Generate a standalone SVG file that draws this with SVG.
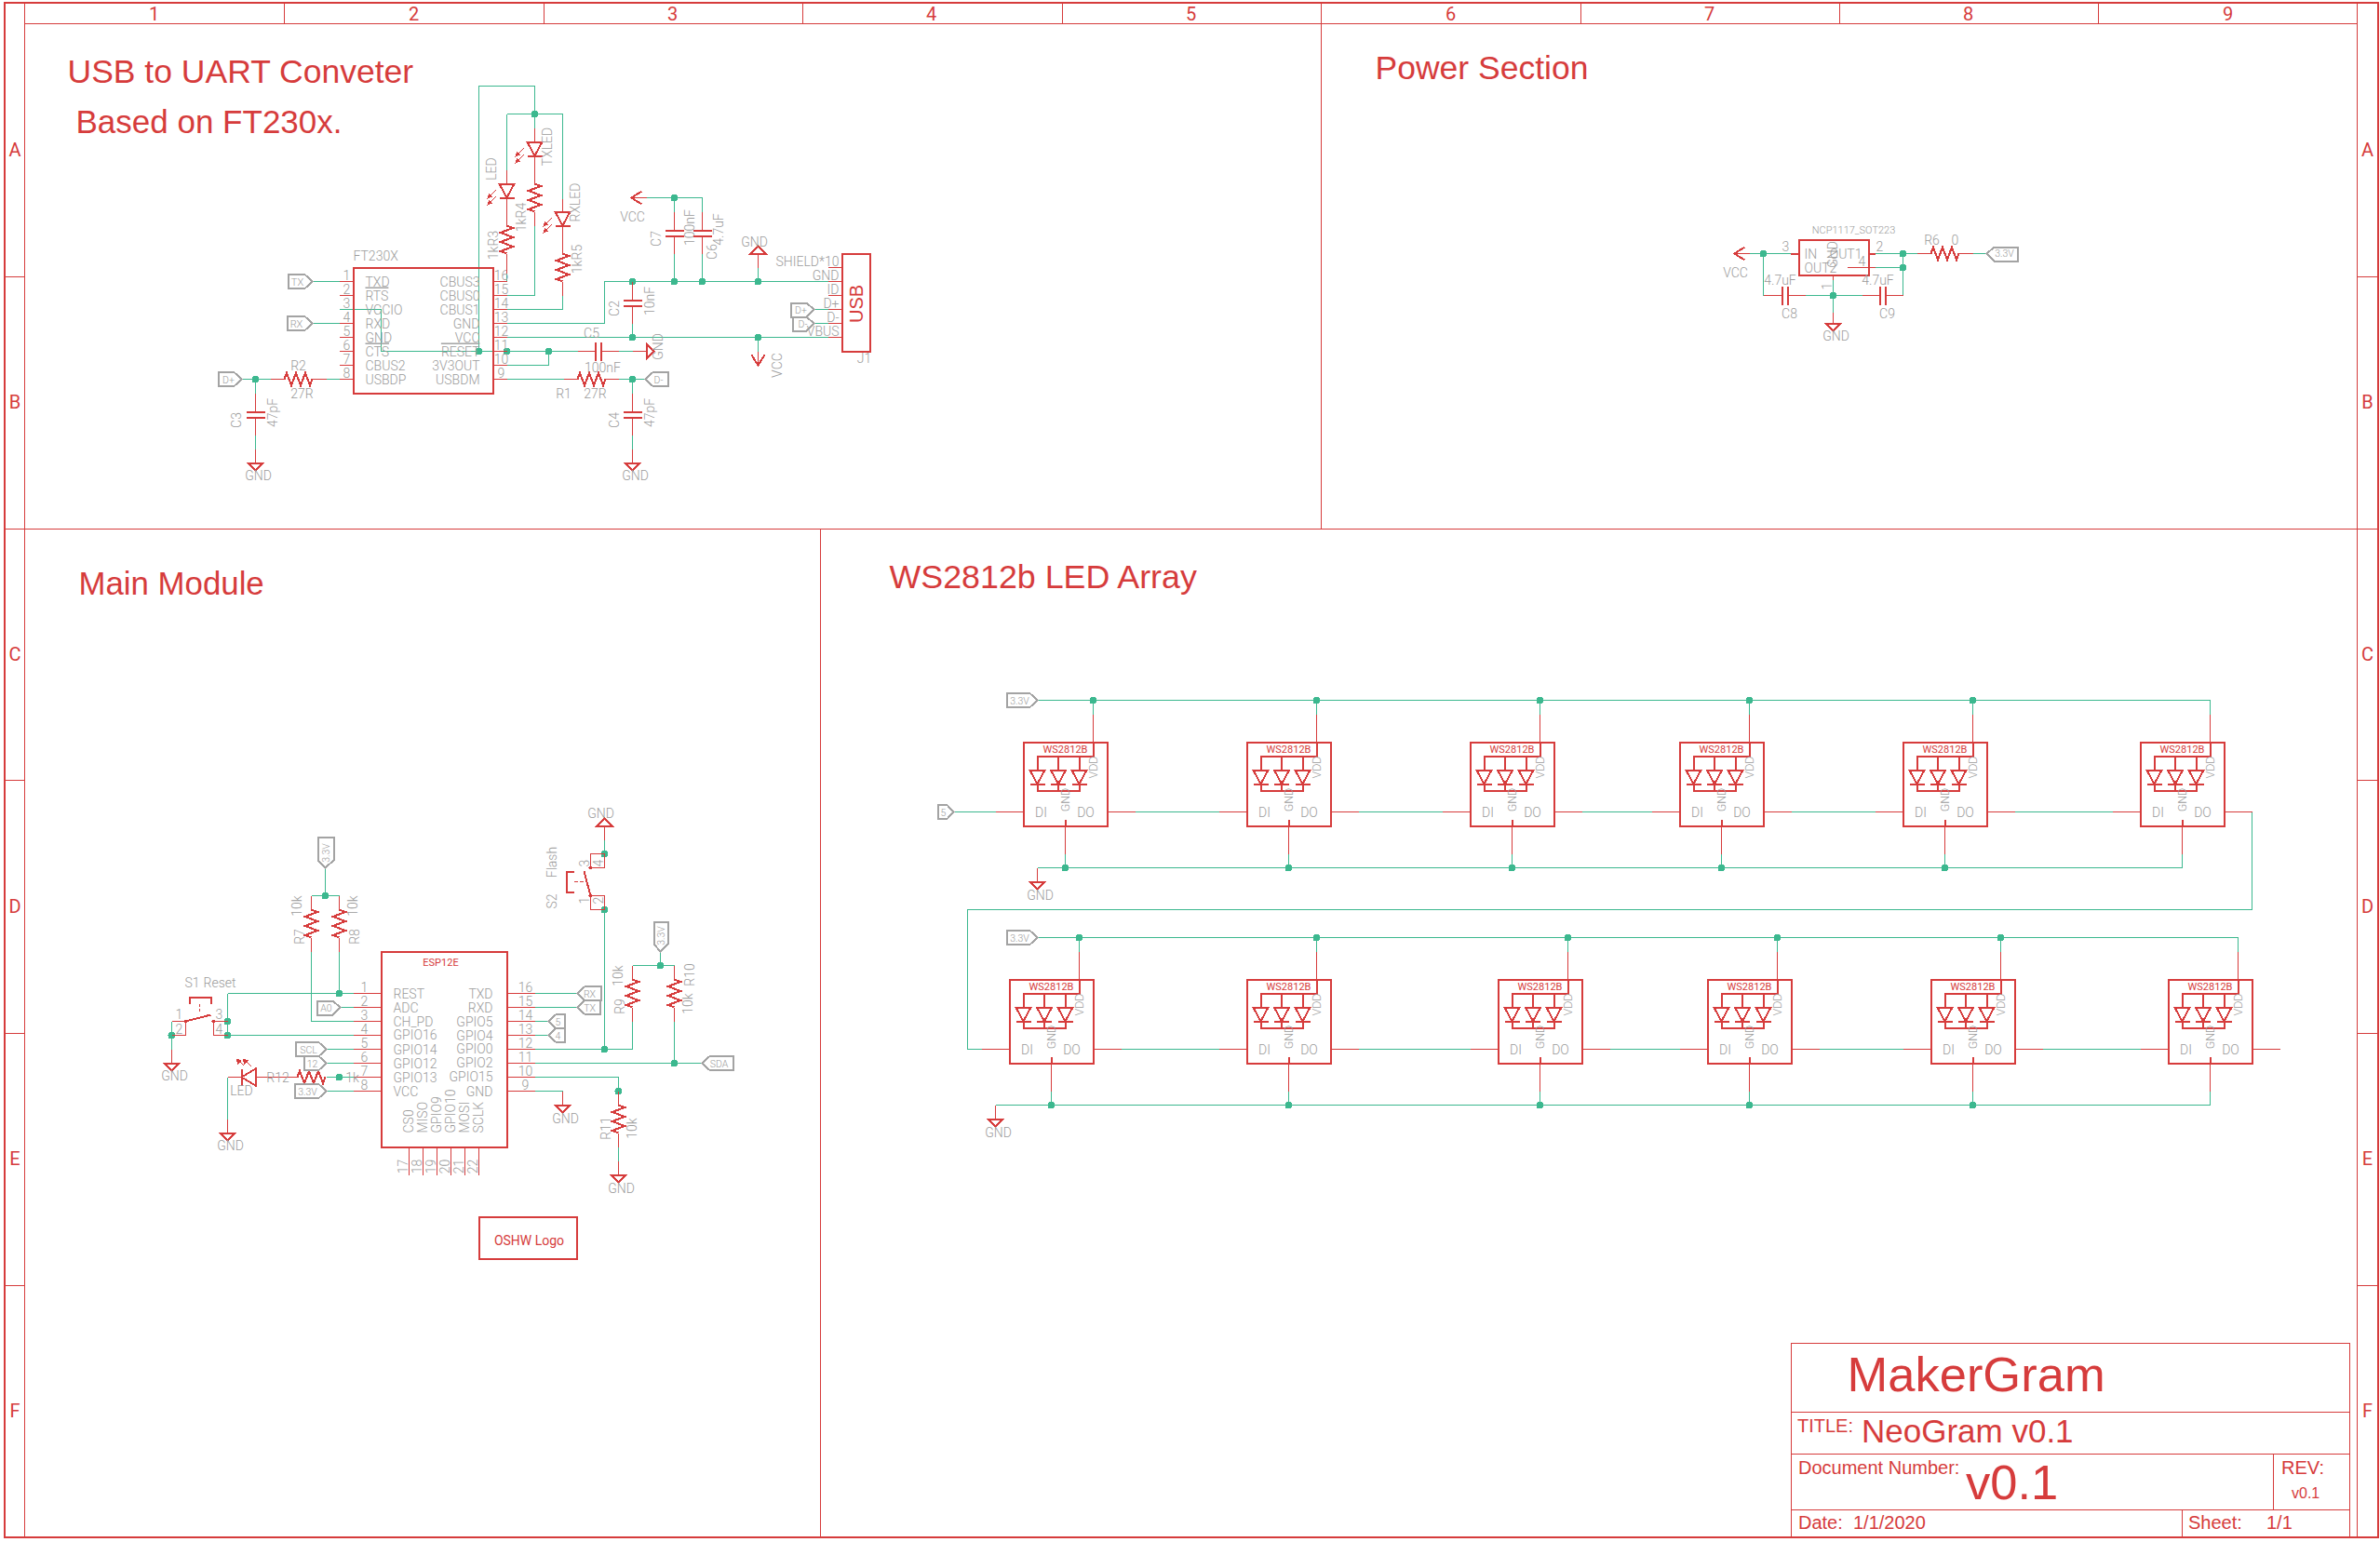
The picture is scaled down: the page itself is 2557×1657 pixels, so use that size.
<svg xmlns="http://www.w3.org/2000/svg" width="2557" height="1657" viewBox="0 0 2557 1657" shape-rendering="crispEdges">
<style>
text{font-family:Roboto,"Liberation Sans",sans-serif;fill:#9c9c9c;font-size:14px;font-weight:300;text-anchor:middle}
.e{text-anchor:end}.l{text-anchor:start}
.n{font-size:12.5px}.s{font-size:10.5px}.f10{font-size:11px}
.r{fill:#d63c3c;font-weight:400}.rs{fill:#d63c3c;font-size:11px;font-weight:400}
.a{font-family:"Liberation Sans",Arial,sans-serif;fill:#d63c3c;text-anchor:start;font-weight:400}
.w{fill:none;stroke:#3cb88f;stroke-width:1}
.p{fill:none;stroke:#d63c3c;stroke-width:1}
.t{fill:none;stroke:#d63c3c;stroke-width:2}
.fr{fill:none;stroke:#d63c3c;stroke-width:1}
.fo{fill:none;stroke:#d63c3c;stroke-width:2}
.fl{fill:none;stroke:#a3a3a3;stroke-width:2}
.d{fill:#3cb88f;stroke:none}
.rr{fill:#d63c3c;stroke:none}
</style>
<defs>
<path id="sR" class="t" d="M0 0L2.5-7L7.5 7L12.5-7L17.5 7L22.5-7L27.5 7L30 0"/>
<path id="sG" class="t" d="M-8 0H8L0 8Z"/>
<path id="sV" class="t" d="M-7-11L0 0L7-11"/>
<g id="sC"><path class="t" d="M-10 0H10M-10 6H10"/></g>
<g id="sD"><path class="t" d="M-8 0H8L0 15ZM-8 15H8"/></g>
<g id="sLA"><path class="p" d="M-12 7L-19 14M-12 14L-19 21"/><path class="rr" d="M-21 16L-19 10L-16 14ZM-21 23L-19 17L-16 21Z"/></g>
<g id="sWS">
<rect class="t" x="0" y="0" width="90" height="90"/>
<path class="t" d="M75 0V15H15V30M37.5 15V30M60 15V30M15 45V52.5H60V45M37.5 45V52.5M45 83V90"/>
<use href="#sD" x="15" y="30"/><use href="#sD" x="37.5" y="30"/><use href="#sD" x="60" y="30"/>
<path class="p" d="M75-30V0M-30 75H0M90 75H120M45 90V120"/>
</g>
</defs>
<g transform="translate(.5 .5)">
<g id="frame">
<path class="fo" d="M4 2H2554V1651H4Z"/>
<path class="fr" d="M26 2V1651M2532 2V1651M26 25H2532M305 2V25M583.5 2V25M862 2V25M1140.5 2V25M1419 2V25M1697.5 2V25M1976 2V25M2254 2V25M4 297H26M4 568H2554M4 838H26M4 1110H26M4 1381H26M2532 297H2554M2532 838H2554M2532 1110H2554M2532 1381H2554M1419 25V568M881 568V1651"/>
<g>
<text class="r" style="font-size:20px" x="165" y="21">1</text><text class="r" style="font-size:20px" x="444" y="21">2</text><text class="r" style="font-size:20px" x="722" y="21">3</text><text class="r" style="font-size:20px" x="1000" y="21">4</text><text class="r" style="font-size:20px" x="1279" y="21">5</text><text class="r" style="font-size:20px" x="1558" y="21">6</text><text class="r" style="font-size:20px" x="1836" y="21">7</text><text class="r" style="font-size:20px" x="2114" y="21">8</text><text class="r" style="font-size:20px" x="2393" y="21">9</text>
<text class="r" style="font-size:20px" x="15.5" y="167">A</text><text class="r" style="font-size:20px" x="15.5" y="438">B</text><text class="r" style="font-size:20px" x="15.5" y="709">C</text><text class="r" style="font-size:20px" x="15.5" y="980">D</text><text class="r" style="font-size:20px" x="15.5" y="1251">E</text><text class="r" style="font-size:20px" x="15.5" y="1522">F</text>
<text class="r" style="font-size:20px" x="2543" y="167">A</text><text class="r" style="font-size:20px" x="2543" y="438">B</text><text class="r" style="font-size:20px" x="2543" y="709">C</text><text class="r" style="font-size:20px" x="2543" y="980">D</text><text class="r" style="font-size:20px" x="2543" y="1251">E</text><text class="r" style="font-size:20px" x="2543" y="1522">F</text>
</g>
</g>
<g id="titles">
<text class="a" style="font-size:35.5px" x="72" y="88.5">USB to UART Conveter</text>
<text class="a" style="font-size:35px" x="81" y="142.5">Based on FT230x.</text>
<text class="a" style="font-size:35.5px" x="1477" y="84.5">Power Section</text>
<text class="a" style="font-size:34.8px" x="84" y="638.5">Main Module</text>
<text class="a" style="font-size:35.8px" x="955" y="631.5">WS2812b LED Array</text>
</g>
<g id="titleblock">
<path class="fr" d="M1924 1443H2524V1651H1924ZM1924 1517H2524M1924 1562H2524M1924 1622H2524M2442 1562V1622M2344 1622V1651"/>
<text class="a" style="font-size:52.5px" x="1984" y="1494.5">MakerGram</text>
<text class="a" style="font-size:20px" x="1930.5" y="1538.5">TITLE:</text>
<text class="a" style="font-size:35px" x="1999.5" y="1549.5">NeoGram v0.1</text>
<text class="a" style="font-size:20px" x="1931.5" y="1583.5">Document Number:</text>
<text class="a" style="font-size:52.5px" x="2111.5" y="1610.5">v0.1</text>
<text class="a" style="font-size:20px" x="2450.5" y="1583.5">REV:</text>
<text class="a" style="font-size:16px" x="2461.5" y="1609.5">v0.1</text>
<text class="a" style="font-size:20px" x="1931.5" y="1642.5">Date:</text>
<text class="a" style="font-size:20px" x="1990.5" y="1642.5">1/1/2020</text>
<text class="a" style="font-size:20px" x="2350.5" y="1642.5">Sheet:</text>
<text class="a" style="font-size:20px" x="2434.5" y="1642.5">1/1</text>
</g>
<g id="connectors">
<path class="w" d="M335 302H364M335 347H364M364 332H409V377H620M514 377V92H574V137M574 242V317H544M544 122H604V213M604 317V332H544M544 122V182M544 293V302M544 347H649V302H889M544 362H889M544 392H589V377M664 377H679M679 347V362M694 212H754V227M724 212V227M724 272V302M754 272V302M814 302V287M814 362V377M259 407H290M274 407V422M274 467V482M350 407H364M544 407H605M664 407H693M679 407V422M679 467V482M874 332H889M874 347H889"/>
<path class="w" d="M1879 272H1923M1894 272V317M1939 317H2000M1969 296V335M2014 272H2059M2044 272V317M2014 287H2044M2119 272H2134"/>
<path class="w" d="M349 932V962M334 962H364M334 1022V1097H379M364 1022V1067M244 1067H379M244 1067V1112M184 1097V1127M244 1112H379M364 1082H379M349 1127H379M349 1142H379M350 1157H379M349 1172H379M244 1157V1202M574 1067H620M574 1082H619M574 1097H589M574 1112H589M574 1127H679V1097M649 1127V977M649 917V902M709 1022V1037M679 1037H724M724 1097V1142M574 1142H754M574 1157H664V1172M664 1232V1247M574 1172H604"/>
<path class="w" d="M1024 872H1069M1114 752H2374V767M1174 752V767M1414 752V767M1654 752V767M1879 752V767M2119 752V767M1219 872H1309M1459 872H1549M1699 872H1774M1924 872H2014M2164 872H2269M2419 872V977H1039V1127H1054M1114 932H2344V917M1144 917V932M1384 917V932M1624 917V932M1849 917V932M2089 917V932"/>
<path class="w" d="M1114 1007H2404V1022M1159 1007V1022M1414 1007V1022M1684 1007V1022M1909 1007V1022M2149 1007V1022M1204 1127H1309M1459 1127H1579M1729 1127H1804M1954 1127H2044M2194 1127H2299M1069 1187H2374V1172M1129 1172V1187M1384 1172V1187M1654 1172V1187M1879 1172V1187M2119 1172V1187"/>
<g class="d">
<circle cx="514" cy="377" r="4"/><circle cx="544" cy="377" r="4"/><circle cx="589" cy="377" r="4"/><circle cx="574" cy="122" r="4"/><circle cx="679" cy="302" r="4"/><circle cx="724" cy="302" r="4"/><circle cx="754" cy="302" r="4"/><circle cx="814" cy="302" r="4"/><circle cx="679" cy="362" r="4"/><circle cx="814" cy="362" r="4"/><circle cx="724" cy="212" r="4"/><circle cx="274" cy="407" r="4"/><circle cx="679" cy="407" r="4"/>
<circle cx="1894" cy="272" r="4"/><circle cx="2044" cy="272" r="4"/><circle cx="2044" cy="287" r="4"/><circle cx="1969" cy="317" r="4"/>
<circle cx="349" cy="962" r="4"/><circle cx="364" cy="1067" r="4"/><circle cx="244" cy="1097" r="4"/><circle cx="244" cy="1112" r="4"/><circle cx="184" cy="1112" r="4"/><circle cx="364" cy="1157" r="4"/><circle cx="649" cy="917" r="4"/><circle cx="649" cy="977" r="4"/><circle cx="649" cy="1127" r="4"/><circle cx="709" cy="1037" r="4"/><circle cx="724" cy="1142" r="4"/><circle cx="664" cy="1172" r="4"/>
<circle cx="1174" cy="752" r="4"/><circle cx="1414" cy="752" r="4"/><circle cx="1654" cy="752" r="4"/><circle cx="1879" cy="752" r="4"/><circle cx="2119" cy="752" r="4"/>
<circle cx="1144" cy="932" r="4"/><circle cx="1384" cy="932" r="4"/><circle cx="1624" cy="932" r="4"/><circle cx="1849" cy="932" r="4"/><circle cx="2089" cy="932" r="4"/>
<circle cx="1159" cy="1007" r="4"/><circle cx="1414" cy="1007" r="4"/><circle cx="1684" cy="1007" r="4"/><circle cx="1909" cy="1007" r="4"/><circle cx="2149" cy="1007" r="4"/>
<circle cx="1129" cy="1187" r="4"/><circle cx="1384" cy="1187" r="4"/><circle cx="1654" cy="1187" r="4"/><circle cx="1879" cy="1187" r="4"/><circle cx="2119" cy="1187" r="4"/>
</g>
</g>
<g id="U_FT230X">
<rect class="t" x="379" y="287" width="150" height="135"/>
<path class="p" d="M364 302H379M364 317H379M364 347H379M364 362H379M364 377H379M364 392H379M364 407H379M529 302H544M529 317H544M529 332H544M529 347H544M529 362H544M529 377H544M529 392H544M529 407H544"/>
<text class="l" x="379" y="279">FT230X</text>
<text x="372" y="300">1</text><text x="372" y="315">2</text><text x="372" y="330">3</text><text x="372" y="345">4</text><text x="372" y="360">5</text><text x="372" y="375">6</text><text x="372" y="390">7</text><text x="372" y="405">8</text>
<text x="538" y="300">16</text><text x="538" y="315">15</text><text x="538" y="330">14</text><text x="538" y="345">13</text><text x="538" y="360">12</text><text x="538" y="375">11</text><text x="538" y="390">10</text><text x="538" y="405">9</text>
<text class="l" x="392" y="307">TXD</text><text class="l" x="392" y="322" text-decoration="overline">RTS</text><text class="l" x="392" y="337">VCCIO</text><text class="l" x="392" y="352">RXD</text><text class="l" x="392" y="367">GND</text><text class="l" x="392" y="382" text-decoration="overline">CTS</text><text class="l" x="392" y="397">CBUS2</text><text class="l" x="392" y="412">USBDP</text>
<text class="e" x="515" y="307">CBUS3</text><text class="e" x="515" y="322">CBUS0</text><text class="e" x="515" y="337">CBUS1</text><text class="e" x="515" y="352">GND</text><text class="e" x="515" y="367">VCC</text><text class="e" x="515" y="382" text-decoration="overline">RESET</text><text class="e" x="515" y="397">3V3OUT</text><text class="e" x="515" y="412">USBDM</text>
</g>
<g id="flag_TX"><path class="fl" d="M309 294.5H327L335 302L327 309.5H309Z"/><text class="f10" x="319" y="306">TX</text></g>
<g id="flag_RX"><path class="fl" d="M308 339.5H327L335 347L327 354.5H308Z"/><text class="f10" x="318" y="351">RX</text></g>
<g id="flag_Dp"><path class="fl" d="M234 399.5H251L259 407L251 414.5H234Z"/><text class="s" x="245" y="411">D+</text></g>
<g id="flag_Dm"><path class="fl" d="M717 399.5H701L693 407L701 414.5H717Z"/><text class="s" x="707" y="411">D-</text></g>
<g id="LED_TX"><path class="p" d="M574 137V152M574 167V197M574 227V242"/><use href="#sD" x="574" y="152"/><use href="#sLA" x="574" y="152"/><text transform="translate(592,157) rotate(-90)">TXLED</text></g>
<g id="LED_1"><path class="p" d="M544 182V197M544 212V242M544 272V293"/><use href="#sD" x="544" y="197"/><use href="#sLA" x="544" y="197"/><text transform="translate(532,181) rotate(-90)">LED</text></g>
<g id="LED_RX"><path class="p" d="M604 213V227M604 242V272M604 302V317"/><use href="#sD" x="604" y="227"/><use href="#sLA" x="604" y="227"/><text transform="translate(622,217) rotate(-90)">RXLED</text></g>
<g id="R3"><use href="#sR" transform="translate(544,242) rotate(90)"/><text transform="translate(534,263) rotate(-90)">1kR3</text></g>
<g id="R4"><use href="#sR" transform="translate(574,197) rotate(90)"/><text transform="translate(564,233) rotate(-90)">1kR4</text></g>
<g id="R5"><use href="#sR" transform="translate(604,272) rotate(90)"/><text transform="translate(624,278) rotate(-90)">1kR5</text></g>
<g id="R2"><path class="p" d="M290 407H305M335 407H350"/><use href="#sR" x="305" y="407"/><text x="320" y="397">R2</text><text x="324" y="427">27R</text></g>
<g id="R1"><path class="p" d="M605 407H620M650 407H664"/><use href="#sR" x="620" y="407"/><text x="605" y="427">R1</text><text x="639" y="427">27R</text></g>
<g id="C3"><path class="p" d="M274 422V442M274 448V467"/><use href="#sC" x="274" y="442"/><text transform="translate(258,451) rotate(-90)">C3</text><text transform="translate(297,443) rotate(-90)">47pF</text></g>
<g id="C4"><path class="p" d="M679 422V442M679 448V467"/><use href="#sC" x="679" y="442"/><text transform="translate(664,451) rotate(-90)">C4</text><text transform="translate(702,443) rotate(-90)">47pF</text></g>
<g id="C2"><path class="p" d="M679 302V322M679 328V347"/><use href="#sC" x="679" y="322"/><text transform="translate(664,331) rotate(-90)">C2</text><text transform="translate(702,323) rotate(-90)">10nF</text></g>
<g id="C5"><path class="p" d="M620 377H639M645 377H664"/><path class="t" d="M639 367V387M645 367V387"/><text x="635" y="362">C5</text><text x="647" y="399">100nF</text></g>
<g id="C7"><path class="p" d="M724 227V247M724 253V272"/><use href="#sC" x="724" y="247"/><text transform="translate(709,256) rotate(-90)">C7</text><text transform="translate(745,244) rotate(-90)">100nF</text></g>
<g id="C6"><path class="p" d="M754 227V247M754 253V272"/><use href="#sC" x="754" y="247"/><text transform="translate(769,270) rotate(-90)">C6</text><text transform="translate(776,246) rotate(-90)">4.7uF</text></g>
<g id="GND1"><path class="p" d="M274 482V497"/><use href="#sG" x="274" y="497"/><text x="277" y="515">GND</text></g>
<g id="GND2"><path class="p" d="M679 482V497"/><use href="#sG" x="679" y="497"/><text x="682" y="515">GND</text></g>
<g id="GND3"><path class="p" d="M679 377H694"/><use href="#sG" transform="translate(694,377) rotate(-90)"/><text transform="translate(711,372) rotate(-90)">GND</text></g>
<g id="GND4"><path class="p" d="M814 287V272"/><use href="#sG" transform="translate(814,272) rotate(180)"/><text x="810" y="264">GND</text></g>
<g id="VCC1"><path class="p" d="M678 212H694"/><use href="#sV" transform="translate(678,212) rotate(90)"/><text x="679" y="237">VCC</text></g>
<g id="VCC2"><path class="p" d="M814 377V392"/><use href="#sV" x="814" y="392"/><text transform="translate(839,392) rotate(-90)">VCC</text></g>
<g id="J1">
<rect class="t" x="904" y="272" width="30" height="105"/>
<path class="p" d="M889 287H904M889 302H904M889 317H904M889 332H904M889 347H904M889 362H904"/>
<text class="e" x="901" y="285">SHIELD*10</text><text class="e" x="901" y="300">GND</text><text class="e" x="901" y="315">ID</text><text class="e" x="901" y="330">D+</text><text class="e" x="901" y="345">D-</text><text class="e" x="901" y="360">VBUS</text>
<text class="a" style="font-size:20px;text-anchor:middle" transform="translate(926,326) rotate(-90)">USB</text>
<text x="928" y="389">J1</text>
</g>
<g id="flag_USBp"><path class="fl" d="M849 325H866L874 332L866 340H849Z"/><text class="s" x="860" y="336">D+</text></g>
<g id="flag_USBm"><path class="fl" d="M851 340H866L874 347L866 355H851Z"/><text class="s" x="862" y="351">D-</text></g>
<g id="U_NCP1117">
<rect class="t" x="1932" y="257.5" width="75" height="38"/>
<path class="t" d="M1923 272H1932M2007 272H2014"/>
<path class="p" d="M1984 287H2014M1969 296V300"/>
<text class="s" style="font-size:11px" x="1991" y="250">NCP1117_SOT223</text>
<text x="1918" y="269">3</text><text x="2019" y="269">2</text><text x="2000" y="285">4</text>
<text class="l" x="1938" y="277">IN</text><text class="e" x="2000" y="277">OUT1</text><text class="l" x="1938" y="292">OUT2</text>
<text transform="translate(1973,273) rotate(-90)">GND</text><text transform="translate(1967,307) rotate(-90)">1</text>
</g>
<g id="C8"><path class="p" d="M1894 317H1914M1920 317H1939"/><path class="t" d="M1914 307V327M1920 307V327"/><text x="1912" y="305">4.7uF</text><text x="1922" y="341">C8</text></g>
<g id="C9"><path class="p" d="M2000 317H2019M2025 317H2044"/><path class="t" d="M2019 307V327M2025 307V327"/><text x="2017" y="305">4.7uF</text><text x="2027" y="341">C9</text></g>
<g id="R6"><path class="p" d="M2059 272H2074M2104 272H2119"/><use href="#sR" x="2074" y="272"/><text x="2075" y="262">R6</text><text x="2100" y="262">0</text></g>
<g id="VCC3"><path class="p" d="M1863 272H1879"/><use href="#sV" transform="translate(1863,272) rotate(90)"/><text x="1864" y="297">VCC</text></g>
<g id="GND5"><path class="p" d="M1969 335V347"/><use href="#sG" x="1969" y="347"/><text x="1972" y="365">GND</text></g>
<g id="flag_33a"><path class="fl" d="M2134 272L2142 265H2167V280H2142Z"/><text class="s" x="2153" y="275.5">3.3V</text></g>
<g id="U_ESP12E">
<rect class="t" x="409" y="1022" width="135" height="210"/>
<path class="p" d="M379 1067H409M379 1082H409M379 1097H409M379 1112H409M379 1127H409M379 1142H409M379 1157H409M379 1172H409M544 1067H574M544 1082H574M544 1097H574M544 1112H574M544 1127H574M544 1142H574M544 1157H574M544 1172H574M439 1232V1262M454 1232V1262M469 1232V1262M484 1232V1262M499 1232V1262M514 1232V1262"/>
<text class="rs" x="473" y="1037">ESP12E</text>
<text x="391" y="1065">1</text><text x="391" y="1080">2</text><text x="391" y="1095">3</text><text x="391" y="1110">4</text><text x="391" y="1125">5</text><text x="391" y="1140">6</text><text x="391" y="1155">7</text><text x="391" y="1170">8</text>
<text x="564" y="1065">16</text><text x="564" y="1080">15</text><text x="564" y="1095">14</text><text x="564" y="1110">13</text><text x="564" y="1125">12</text><text x="564" y="1140">11</text><text x="564" y="1155">10</text><text x="564" y="1170">9</text>
<text class="l" x="422" y="1072">REST</text><text class="l" x="422" y="1087">ADC</text><text class="l" x="422" y="1102">CH_PD</text><text class="l" x="422" y="1116">GPIO16</text><text class="l" x="422" y="1132">GPIO14</text><text class="l" x="422" y="1147">GPIO12</text><text class="l" x="422" y="1162">GPIO13</text><text class="l" x="422" y="1177">VCC</text>
<text class="e" x="529" y="1072">TXD</text><text class="e" x="529" y="1087">RXD</text><text class="e" x="529" y="1102">GPIO5</text><text class="e" x="529" y="1117">GPIO4</text><text class="e" x="529" y="1131">GPIO0</text><text class="e" x="529" y="1146">GPIO2</text><text class="e" x="529" y="1161">GPIO15</text><text class="e" x="529" y="1177">GND</text>
<text class="l" transform="translate(443,1217) rotate(-90)">CS0</text><text class="l" transform="translate(458,1217) rotate(-90)">MISO</text><text class="l" transform="translate(473,1217) rotate(-90)">GPIO9</text><text class="l" transform="translate(488,1217) rotate(-90)">GPIO10</text><text class="l" transform="translate(503,1217) rotate(-90)">MOSI</text><text class="l" transform="translate(518,1217) rotate(-90)">SCLK</text>
<text transform="translate(437,1253) rotate(-90)">17</text><text transform="translate(452,1253) rotate(-90)">18</text><text transform="translate(467,1253) rotate(-90)">19</text><text transform="translate(482,1253) rotate(-90)">20</text><text transform="translate(497,1253) rotate(-90)">21</text><text transform="translate(512,1253) rotate(-90)">22</text>
</g>
<g id="R7"><path class="p" d="M334 962V977M334 1007V1022"/><use href="#sR" transform="translate(334,977) rotate(90)"/><text transform="translate(326,1006) rotate(-90)">R7</text><text transform="translate(323,973) rotate(-90)">10k</text></g>
<g id="R8"><path class="p" d="M364 962V977M364 1007V1022"/><use href="#sR" transform="translate(364,977) rotate(90)"/><text transform="translate(385,1006) rotate(-90)">R8</text><text transform="translate(383,973) rotate(-90)">10k</text></g>
<g id="R9"><path class="p" d="M679 1037V1052M679 1082V1097"/><use href="#sR" transform="translate(679,1052) rotate(90)"/><text transform="translate(668,1048) rotate(-90)">10k</text><text transform="translate(670,1081) rotate(-90)">R9</text></g>
<g id="R10"><path class="p" d="M724 1037V1052M724 1082V1097"/><use href="#sR" transform="translate(724,1052) rotate(90)"/><text transform="translate(745,1047) rotate(-90)">R10</text><text transform="translate(743,1078) rotate(-90)">10k</text></g>
<g id="R11"><path class="p" d="M664 1172V1187M664 1217V1232"/><use href="#sR" transform="translate(664,1187) rotate(90)"/><text transform="translate(655,1212) rotate(-90)">R11</text><text transform="translate(683,1212) rotate(-90)">10k</text></g>
<g id="R12"><path class="p" d="M244 1157H259M274 1157H319"/><use href="#sR" x="319" y="1157"/><text x="298" y="1162">R12</text><text x="378" y="1162">1k</text></g>
<g id="LED_M"><path class="t" d="M259 1148V1166M274 1148V1166L259 1157Z"/><path class="p" d="M262 1145L255 1138M270 1146L262 1138"/><path class="rr" d="M253 1137L259 1139L255 1143ZM260 1137L266 1139L262 1143Z"/><text x="259" y="1176">LED</text></g>
<g id="S1">
<path class="t" d="M203 1078V1071H226V1078"/><path class="p" stroke-dasharray="3 2" d="M214 1078V1088"/>
<path class="p" d="M184 1097H199V1112H184M229 1112V1097H244M229 1112H244"/><path class="t" d="M199 1097L226 1090"/><circle class="rr" cx="199" cy="1097" r="2"/><circle class="rr" cx="229" cy="1097" r="2"/>
<text class="l" x="198" y="1060">S1</text><text class="l" x="218" y="1060">Reset</text><text x="192" y="1094">1</text><text x="192" y="1110">2</text><text x="235" y="1094">3</text><text x="235" y="1110">4</text>
</g>
<g id="S2">
<path class="t" d="M616 936H608V958H616M634 962L627 936"/><path class="p" stroke-dasharray="4 2" d="M616 947H630"/>
<path class="p" d="M634 917H649V932H634ZM634 962H649V977H634Z"/><circle class="rr" cx="634" cy="962" r="2"/><circle class="rr" cx="634" cy="932" r="2"/>
<text transform="translate(597,926) rotate(-90)">Flash</text><text transform="translate(597,968) rotate(-90)">S2</text>
<text transform="translate(632,927) rotate(-90)">3</text><text transform="translate(647,927) rotate(-90)">4</text><text transform="translate(632,967) rotate(-90)">1</text><text transform="translate(647,967) rotate(-90)">2</text>
</g>
<g id="GND6"><path class="p" d="M184 1127V1142"/><use href="#sG" x="184" y="1142"/><text x="187" y="1160">GND</text></g>
<g id="GND7"><path class="p" d="M244 1202V1217"/><use href="#sG" x="244" y="1217"/><text x="247" y="1235">GND</text></g>
<g id="GND8"><path class="p" d="M604 1172V1187"/><use href="#sG" x="604" y="1187"/><text x="607" y="1206">GND</text></g>
<g id="GND9"><path class="p" d="M664 1247V1262"/><use href="#sG" x="664" y="1262"/><text x="667" y="1281">GND</text></g>
<g id="GND10"><path class="p" d="M649 902V887"/><use href="#sG" transform="translate(649,887) rotate(180)"/><text x="645" y="878">GND</text></g>
<g id="flag_33b"><path class="fl" d="M341 899H358V924L349 932L341 924Z"/><text class="s" transform="translate(353,916) rotate(-90)">3.3V</text></g>
<g id="flag_33c"><path class="fl" d="M702 990H717V1014L709 1022L702 1014Z"/><text class="s" transform="translate(713,1005) rotate(-90)">3.3V</text></g>
<g id="flag_A0"><path class="fl" d="M340 1075H357L365 1082L357 1090H340Z"/><text class="s" x="350" y="1086">A0</text></g>
<g id="flag_SCL"><path class="fl" d="M317 1119.5H342L350 1127L342 1134.5H317Z"/><text class="s" x="331" y="1131">SCL</text></g>
<g id="flag_12"><path class="fl" d="M326 1134.5H342L350 1142L342 1149.5H326Z"/><text class="s" x="335" y="1146">12</text></g>
<g id="flag_33d"><path class="fl" d="M316 1164.5H342L350 1172L342 1179.5H316Z"/><text class="s" x="330" y="1176">3.3V</text></g>
<g id="flag_RX2"><path class="fl" d="M645 1059.5H628L620 1067L628 1074.5H645Z"/><text class="s" x="633" y="1071">RX</text></g>
<g id="flag_TX2"><path class="fl" d="M644 1074.5H628L620 1082L628 1089.5H644Z"/><text class="s" x="633" y="1086">TX</text></g>
<g id="flag_5"><path class="fl" d="M606 1089.5H597L589 1097L597 1104.5H606Z"/><text class="s" x="599" y="1101">5</text></g>
<g id="flag_4"><path class="fl" d="M606 1104.5H597L589 1112L597 1119.5H606Z"/><text class="s" x="599" y="1116">4</text></g>
<g id="flag_SDA"><path class="fl" d="M787 1134.5H762L754 1142L762 1149.5H787Z"/><text class="s" x="772" y="1146">SDA</text></g>
<g id="OSHW"><rect class="t" x="514" y="1307" width="105" height="45"/><text class="r" x="568" y="1337">OSHW Logo</text></g>
<g id="flag_5b"><path class="fl" d="M1007 864.5H1017L1024 872L1017 879.5H1007Z"/><text class="s" x="1013" y="876">5</text></g>
<g id="flag_33e"><path class="fl" d="M1081 744.5H1106L1114 752L1106 759.5H1081Z"/><text class="s" x="1095" y="756">3.3V</text></g>
<g id="flag_33f"><path class="fl" d="M1081 999.5H1106L1114 1007L1106 1014.5H1081Z"/><text class="s" x="1095" y="1011">3.3V</text></g>
<g id="GND11"><path class="p" d="M1114 932V947"/><use href="#sG" x="1114" y="947"/><text x="1117" y="966">GND</text></g>
<g id="GND12"><path class="p" d="M1069 1187V1202"/><use href="#sG" x="1069" y="1202"/><text x="1072" y="1221">GND</text></g>
<g id="LED1" transform="translate(1099,797)"><use href="#sWS"/><text class="rs" x="45" y="11">WS2812B</text><text class="n" transform="translate(79,27) rotate(-90)">VDD</text><text class="n" transform="translate(49,62) rotate(-90)">GND</text><text x="19" y="80">DI</text><text x="67" y="80">DO</text></g>
<g id="LED2" transform="translate(1339,797)"><use href="#sWS"/><text class="rs" x="45" y="11">WS2812B</text><text class="n" transform="translate(79,27) rotate(-90)">VDD</text><text class="n" transform="translate(49,62) rotate(-90)">GND</text><text x="19" y="80">DI</text><text x="67" y="80">DO</text></g>
<g id="LED3" transform="translate(1579,797)"><use href="#sWS"/><text class="rs" x="45" y="11">WS2812B</text><text class="n" transform="translate(79,27) rotate(-90)">VDD</text><text class="n" transform="translate(49,62) rotate(-90)">GND</text><text x="19" y="80">DI</text><text x="67" y="80">DO</text></g>
<g id="LED4" transform="translate(1804,797)"><use href="#sWS"/><text class="rs" x="45" y="11">WS2812B</text><text class="n" transform="translate(79,27) rotate(-90)">VDD</text><text class="n" transform="translate(49,62) rotate(-90)">GND</text><text x="19" y="80">DI</text><text x="67" y="80">DO</text></g>
<g id="LED5" transform="translate(2044,797)"><use href="#sWS"/><text class="rs" x="45" y="11">WS2812B</text><text class="n" transform="translate(79,27) rotate(-90)">VDD</text><text class="n" transform="translate(49,62) rotate(-90)">GND</text><text x="19" y="80">DI</text><text x="67" y="80">DO</text></g>
<g id="LED6" transform="translate(2299,797)"><use href="#sWS"/><text class="rs" x="45" y="11">WS2812B</text><text class="n" transform="translate(79,27) rotate(-90)">VDD</text><text class="n" transform="translate(49,62) rotate(-90)">GND</text><text x="19" y="80">DI</text><text x="67" y="80">DO</text></g>
<g id="LED7" transform="translate(1084,1052)"><use href="#sWS"/><text class="rs" x="45" y="11">WS2812B</text><text class="n" transform="translate(79,27) rotate(-90)">VDD</text><text class="n" transform="translate(49,62) rotate(-90)">GND</text><text x="19" y="80">DI</text><text x="67" y="80">DO</text></g>
<g id="LED8" transform="translate(1339,1052)"><use href="#sWS"/><text class="rs" x="45" y="11">WS2812B</text><text class="n" transform="translate(79,27) rotate(-90)">VDD</text><text class="n" transform="translate(49,62) rotate(-90)">GND</text><text x="19" y="80">DI</text><text x="67" y="80">DO</text></g>
<g id="LED9" transform="translate(1609,1052)"><use href="#sWS"/><text class="rs" x="45" y="11">WS2812B</text><text class="n" transform="translate(79,27) rotate(-90)">VDD</text><text class="n" transform="translate(49,62) rotate(-90)">GND</text><text x="19" y="80">DI</text><text x="67" y="80">DO</text></g>
<g id="LED10" transform="translate(1834,1052)"><use href="#sWS"/><text class="rs" x="45" y="11">WS2812B</text><text class="n" transform="translate(79,27) rotate(-90)">VDD</text><text class="n" transform="translate(49,62) rotate(-90)">GND</text><text x="19" y="80">DI</text><text x="67" y="80">DO</text></g>
<g id="LED11" transform="translate(2074,1052)"><use href="#sWS"/><text class="rs" x="45" y="11">WS2812B</text><text class="n" transform="translate(79,27) rotate(-90)">VDD</text><text class="n" transform="translate(49,62) rotate(-90)">GND</text><text x="19" y="80">DI</text><text x="67" y="80">DO</text></g>
<g id="LED12" transform="translate(2329,1052)"><use href="#sWS"/><text class="rs" x="45" y="11">WS2812B</text><text class="n" transform="translate(79,27) rotate(-90)">VDD</text><text class="n" transform="translate(49,62) rotate(-90)">GND</text><text x="19" y="80">DI</text><text x="67" y="80">DO</text></g>
</g>
</svg>
